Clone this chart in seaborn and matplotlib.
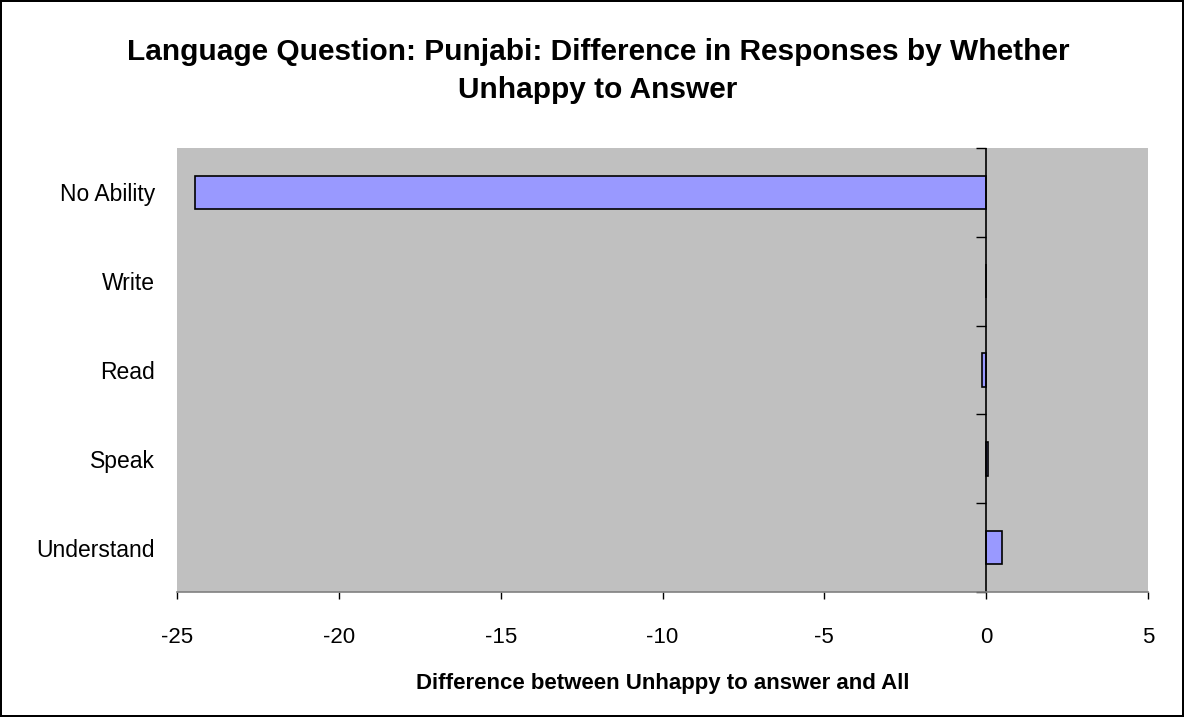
import pandas as pd
import matplotlib
matplotlib.use("Agg")
import matplotlib.pyplot as plt
import seaborn as sns

# categories top to bottom
categories = ["No Ability", "Write", "Read", "Speak", "Understand"]
differences = [-24.45, 0.0, -0.13, 0.07, 0.5]
x_ticks = [-25, -20, -15, -10, -5, 0, 5]

df = pd.DataFrame({"Category": categories, "Difference": differences})

sns.set_style("white")
plt.rcParams["font.family"] = ["Liberation Sans", "DejaVu Sans"]
plt.rcParams["text.color"] = "black"
plt.rcParams["axes.labelcolor"] = "black"
plt.rcParams["xtick.color"] = "black"
plt.rcParams["ytick.color"] = "black"

fig = plt.figure(figsize=(11.84, 7.17), dpi=100, facecolor="white",
                 edgecolor="black", linewidth=1.5)
ax = fig.add_axes([0.1495, 0.1743, 0.8201, 0.6193])
ax.set_facecolor("#C0C0C0")

sns.barplot(data=df, x="Difference", y="Category", order=categories,
            color="#9999FF", edgecolor="black", linewidth=1.2,
            width=0.38, saturation=1, ax=ax)

ax.set_xlim(-25, 5)
ax.set_ylim(4.5, -0.5)
ax.set_xticks(x_ticks)
ax.set_xticklabels([str(t) for t in x_ticks], fontsize=16)
ax.tick_params(axis="x", length=5, width=1, color="black", direction="out",
               bottom=True, pad=20)
ax.tick_params(axis="y", length=0, labelsize=16.5, pad=16)

for s in ["top", "right", "left"]:
    ax.spines[s].set_visible(False)
ax.spines["bottom"].set_color("#808080")
ax.spines["bottom"].set_linewidth(1.2)

# zero line acting as category axis with ticks between categories
ax.axvline(0, color="black", linewidth=1.2)
sec = ax.secondary_yaxis(25 / 30)
sec.set_yticks([-0.5, 0.5, 1.5, 2.5, 3.5, 4.5])
sec.set_yticklabels([])
sec.tick_params(axis="y", length=7, width=1, color="black", direction="in")
sec.spines["left"].set_visible(False)
sec.spines["right"].set_visible(False)

ax.set_ylabel("")
ax.set_xlabel("Difference between Unhappy to answer and All", fontsize=16,
              fontweight="bold", labelpad=18)

fig.text(0.505, 0.901, "Language Question: Punjabi: Difference in Responses by Whether\nUnhappy to Answer",
         ha="center", va="center", fontsize=21.5, fontweight="bold", linespacing=1.45)

fig.savefig("out.png", dpi=100, facecolor=fig.get_facecolor(),
            edgecolor=fig.get_edgecolor())
